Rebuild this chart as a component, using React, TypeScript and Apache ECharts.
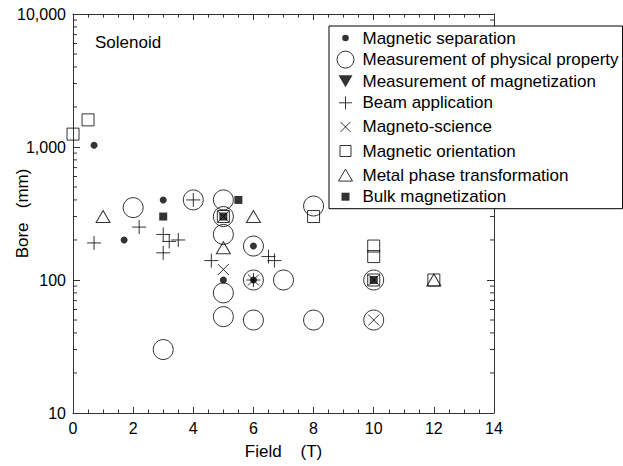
import React, { useEffect, useRef } from 'react';
import * as echarts from 'echarts';

// ---- data (Field [T], Bore [mm]) ----
const seriesNames = [
  'Magnetic separation',
  'Measurement of physical property',
  'Measurement of magnetization',
  'Beam application',
  'Magneto-science',
  'Magnetic orientation',
  'Metal phase transformation',
  'Bulk magnetization',
];
const magneticSeparation = [[0.7, 1030], [1.7, 200], [3, 400], [5, 100], [6, 180], [6, 100]];
const physicalProperty = [
  [2, 350], [3, 30], [4, 400], [5, 400], [5, 300], [5, 220], [5, 80], [5, 53],
  [6, 180], [6, 100], [6, 50], [7, 100], [8, 360], [8, 50], [10, 100], [10, 50],
];
const magnetization: number[][] = [];
const beamApplication = [
  [0.7, 190], [2.2, 250], [3, 220], [3.2, 195], [3.5, 200], [3, 160], [4, 400],
  [4.6, 140], [6.5, 150], [6.7, 140], [6, 100],
];
const magnetoScience = [[5, 120], [5, 300], [6, 100], [10, 100], [10, 50]];
const magneticOrientation = [[0, 1250], [0.5, 1600], [5, 300], [8, 300], [10, 180], [10, 150], [10, 100], [12, 100]];
const metalPhase = [[1, 300], [5, 175], [6, 300], [12, 100]];
const bulkMagnetization = [[3, 300], [5.5, 400], [5, 300], [10, 100]];

const xTickLabels = ['0', '2', '4', '6', '8', '10', '12', '14'];
const yTickLabels: Record<number, string> = { 10: '10', 100: '100', 1000: '1,000', 10000: '10,000' };
const yMinorTicks = [
  20, 30, 40, 50, 60, 70, 80, 90,
  200, 300, 400, 500, 600, 700, 800, 900,
  2000, 3000, 4000, 5000, 6000, 7000, 8000, 9000,
];

const FONT = '"Liberation Sans", Arial, Helvetica, sans-serif';
const AXIS = '#333';
const INK = '#000';

// legend icons in a 24x18 box (corner moves keep the box)
const BOX = 'M0,0M24,18';
const ICONS = {
  dot: `path://${BOX}M15.3,9A3.3,3.3,0,1,1,8.7,9A3.3,3.3,0,1,1,15.3,9Z`,
  circle: `path://${BOX}M20.5,9A8.5,8.5,0,1,1,3.5,9A8.5,8.5,0,1,1,20.5,9Z`,
  down: `path://${BOX}M5,3L19,3L12,15Z`,
  plus: `path://${BOX}M5.5,9L18.5,9M12,2.5L12,15.5`,
  cross: `path://${BOX}M7,4L17,14M17,4L7,14`,
  square: `path://${BOX}M6.5,3.5L17.5,3.5L17.5,14.5L6.5,14.5Z`,
  tri: `path://${BOX}M5,15L19,15L12,3Z`,
  fsquare: `path://${BOX}M8,5L16,5L16,13L8,13Z`,
};

const filled = { color: INK, borderColor: INK, borderWidth: 0 };
const hollow = { color: 'none', borderColor: INK, borderWidth: 1 };

export default function App() {
  const ref = useRef<HTMLDivElement>(null);

  useEffect(() => {
    document.body.style.margin = '0';
    if (!ref.current) return;
    const chart = echarts.init(ref.current, undefined, { renderer: 'svg' });

    const scatter = (name: string, data: number[][], symbol: string, symbolSize: any, itemStyle: any, z = 3) => ({
      name,
      type: 'scatter',
      data,
      symbol,
      symbolSize,
      itemStyle,
      z,
      emphasis: { disabled: true },
      silent: true,
    });

    const legendItem = (name: string, icon: string, itemStyle: any) => ({ name, icon, itemStyle });

    const option: any = {
      animation: false,
      textStyle: { fontFamily: FONT, color: INK },
      title: {
        text: 'Solenoid',
        left: 95,
        top: 34,
        padding: 0,
        textStyle: { fontFamily: FONT, fontSize: 17, fontWeight: 'normal', color: INK },
      },
      grid: { left: 73, right: 129, top: 14, bottom: 53, containLabel: false, outerBoundsMode: 'none' },
      legend: {
        orient: 'vertical',
        left: 329,
        top: 26,
        padding: [3, 4, 3, 2],
        itemGap: 1.1,
        itemWidth: 24,
        itemHeight: 18,
        backgroundColor: '#fff',
        borderColor: INK,
        borderWidth: 1,
        borderRadius: 0,
        selectedMode: false,
        z: 10,
        textStyle: { fontFamily: FONT, fontSize: 17, lineHeight: 18, color: INK, padding: 0 },
        data: [
          legendItem(seriesNames[0], ICONS.dot, filled),
          legendItem(seriesNames[1], ICONS.circle, hollow),
          legendItem(seriesNames[2], ICONS.down, filled),
          legendItem(seriesNames[3], ICONS.plus, hollow),
          legendItem(seriesNames[4], ICONS.cross, hollow),
          legendItem(seriesNames[5], ICONS.square, hollow),
          legendItem(seriesNames[6], ICONS.tri, hollow),
          legendItem(seriesNames[7], ICONS.fsquare, filled),
        ],
      },
      xAxis: [
        {
          type: 'value',
          min: 0,
          max: 14,
          interval: 2,
          position: 'bottom',
          name: 'Field\u00a0\u00a0\u00a0\u00a0(T)',
          nameLocation: 'middle',
          nameGap: 30,
          nameMoveOverlap: false,
          nameTextStyle: { fontFamily: FONT, fontSize: 17, color: INK },
          axisLine: { show: true, onZero: false, lineStyle: { color: AXIS, width: 1 } },
          axisTick: { show: true, inside: true, length: 6, lineStyle: { color: AXIS } },
          minorTick: { show: true, splitNumber: 4, length: 3.5, lineStyle: { color: AXIS } },
          axisLabel: {
            margin: 7,
            fontFamily: FONT,
            fontSize: 16,
            color: INK,
            formatter: (v: number) => xTickLabels[Math.round(v / 2)] ?? String(v),
          },
          splitLine: { show: false },
        },
        {
          type: 'value',
          min: 0,
          max: 14,
          interval: 2,
          position: 'top',
          axisLine: { show: true, onZero: false, lineStyle: { color: AXIS, width: 1 } },
          axisTick: { show: true, inside: true, length: 6, lineStyle: { color: AXIS } },
          minorTick: { show: true, splitNumber: 4, length: 3.5, lineStyle: { color: AXIS } },
          axisLabel: { show: false },
          splitLine: { show: false },
        },
      ],
      yAxis: [
        {
          type: 'log',
          logBase: 10,
          min: 10,
          max: 10000,
          position: 'left',
          name: 'Bore\u00a0\u00a0\u00a0(mm)',
          nameLocation: 'middle',
          nameGap: 42,
          nameMoveOverlap: false,
          nameTextStyle: { fontFamily: FONT, fontSize: 17, color: INK },
          axisLine: { show: true, onZero: false, lineStyle: { color: AXIS, width: 1 } },
          axisTick: { show: true, inside: true, length: 7, lineStyle: { color: AXIS } },
          axisLabel: {
            margin: 7,
            fontFamily: FONT,
            fontSize: 16,
            color: INK,
            formatter: (v: number) => yTickLabels[Math.round(v)] ?? String(v),
          },
          splitLine: { show: false },
        },
        {
          type: 'log',
          logBase: 10,
          min: 10,
          max: 10000,
          position: 'right',
          axisLine: { show: true, onZero: false, lineStyle: { color: AXIS, width: 1 } },
          axisTick: { show: true, inside: true, length: 7, lineStyle: { color: AXIS } },
          axisLabel: { show: false },
          splitLine: { show: false },
        },
      ],
      series: [
        {
          type: 'custom',
          name: 'minor-ticks',
          silent: true,
          clip: false,
          data: yMinorTicks.map((v) => [0, v]),
          renderItem: (_params: any, api: any) => {
            const v = api.value(1);
            const l = api.coord([0, v]);
            const r = api.coord([14, v]);
            return {
              type: 'group',
              children: [
                { type: 'line', shape: { x1: l[0], y1: l[1], x2: l[0] + 4, y2: l[1] }, style: { stroke: AXIS, lineWidth: 1 } },
                { type: 'line', shape: { x1: r[0] - 4, y1: r[1], x2: r[0], y2: r[1] }, style: { stroke: AXIS, lineWidth: 1 } },
              ],
            };
          },
        },
        scatter(seriesNames[1], physicalProperty, 'circle', 20, hollow, 2),
        scatter(seriesNames[0], magneticSeparation, 'circle', 7, filled),
        scatter(seriesNames[2], magnetization, 'path://M0,0L12,0L6,10Z', [12, 10], filled),
        scatter(seriesNames[3], beamApplication, 'path://M0,7L14,7M7,0L7,14', 14, hollow),
        scatter(seriesNames[4], magnetoScience, 'path://M0,0L10,10M10,0L0,10', 11, hollow),
        scatter(seriesNames[5], magneticOrientation, 'rect', 12, hollow),
        scatter(seriesNames[6], metalPhase, 'triangle', [14, 12], hollow),
        scatter(seriesNames[7], bulkMagnetization, 'rect', 8, filled, 4),
      ],
    };

    chart.setOption(option);
    return () => chart.dispose();
  }, []);

  return <div ref={ref} style={{ width: 623, height: 466 }} />;
}
